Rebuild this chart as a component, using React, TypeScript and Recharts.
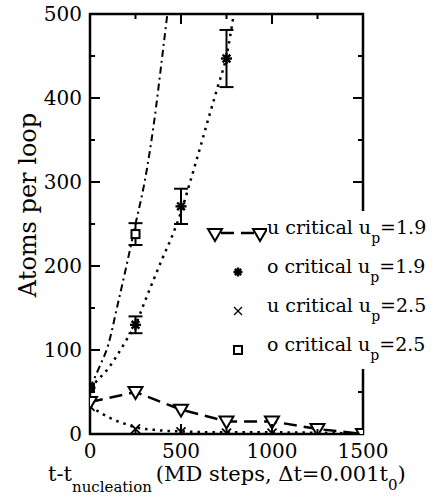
import React from "react";
import {
  ComposedChart,
  Line,
  Scatter,
  ErrorBar,
  XAxis,
  YAxis,
  ReferenceArea,
  Legend,
} from "recharts";

// measured series (t - t_nucleation in MD steps vs atoms per loop)
const u19X = [0, 250, 500, 750, 1000, 1250, 1500];
const u19Y = [38, 50, 29, 15, 15, 6, 0];

const o19X = [0, 250, 500, 750];
const o19Y = [55, 130, 271, 447];
const o19Err = [null, 10, 21, 34];

const u25X = [0, 250, 500, 750, 1000, 1250, 1500];
const u25Y = [33, 6, 2.5, 1, 1, 1, 0];

const o25X = [0, 250];
const o25Y = [55, 238];
const o25Err = [null, 13];

// fitted curves
const fitO19X = [0, 50, 100, 150, 200, 250, 300, 350, 400, 450, 500, 550, 600, 650, 700, 750, 790];
const fitO19Y = [55, 66, 78, 94, 112, 130, 157, 184, 210, 235, 264, 300, 337, 375, 412, 450, 500];

const fitO25X = [0, 50, 100, 150, 200, 250, 300, 350, 400, 425];
const fitO25Y = [55, 79, 106, 152, 200, 250, 300, 368, 455, 500];

const fitU25X = [0, 60, 120, 180, 250, 350, 500, 750, 1000, 1250, 1500];
const fitU25Y = [33, 25, 18, 13, 8, 5, 3, 2, 2, 1.5, 0.5];

const xTicks = [0, 250, 500, 750, 1000, 1250, 1500];
const yTicks = [0, 50, 100, 150, 200, 250, 300, 350, 400, 450, 500];

const FONT = "DejaVu Serif";
const W = 438;
const H = 497;
const TOP = 14;
const LEFT = 90;
const RIGHT = 75;
const XAXIS_H = 63;
const PLOT_W = W - LEFT - RIGHT;

const pts = (xs: number[], ys: number[], errs?: (number | null)[]) =>
  xs.map((x, i) => ({ x, y: ys[i], err: errs ? errs[i] : null }));

const u19 = pts(u19X, u19Y);
const o19 = pts(o19X, o19Y, o19Err);
const u25 = pts(u25X, u25Y);
const o25 = pts(o25X, o25Y, o25Err);
const fitO19 = pts(fitO19X, fitO19Y);
const fitO25 = pts(fitO25X, fitO25Y);
const fitU25 = pts(fitU25X, fitU25Y);

const Triangle = ({ cx, cy }: { cx: number; cy: number }) => (
  <polygon
    points={`${cx - 7},${cy - 5} ${cx + 7},${cy - 5} ${cx},${cy + 7}`}
    fill="#fff"
    stroke="#000"
    strokeWidth={2}
  />
);

const Star = ({ cx, cy, r = 5.5 }: { cx: number; cy: number; r?: number }) => (
  <g stroke="#000" strokeWidth={2.4}>
    <line x1={cx - r} y1={cy} x2={cx + r} y2={cy} />
    <line x1={cx} y1={cy - r} x2={cx} y2={cy + r} />
    <line x1={cx - r * 0.7} y1={cy - r * 0.7} x2={cx + r * 0.7} y2={cy + r * 0.7} />
    <line x1={cx - r * 0.7} y1={cy + r * 0.7} x2={cx + r * 0.7} y2={cy - r * 0.7} />
  </g>
);

const Cross = ({ cx, cy, r = 4.5, w = 1.8 }: { cx: number; cy: number; r?: number; w?: number }) => (
  <g stroke="#000" strokeWidth={w}>
    <line x1={cx - r} y1={cy - r} x2={cx + r} y2={cy + r} />
    <line x1={cx - r} y1={cy + r} x2={cx + r} y2={cy - r} />
  </g>
);

const Square = ({ cx, cy }: { cx: number; cy: number }) => (
  <rect x={cx - 4} y={cy - 4} width={8} height={8} fill="#fff" stroke="#000" strokeWidth={2} />
);

const XTick = (props: any) => {
  const { x, y, payload } = props;
  const major = payload.value % 500 === 0;
  const len = major ? 10 : 5;
  const edge = payload.value === 0 || payload.value === 1500;
  return (
    <g>
      {!edge && (
        <>
          <line x1={x} x2={x} y1={y} y2={y - len} stroke="#000" strokeWidth={2} />
          <line x1={x} x2={x} y1={TOP} y2={TOP + len} stroke="#000" strokeWidth={2} />
        </>
      )}
      {major && (
        <text x={x} y={y + 24} textAnchor="middle" fontSize={20} fontFamily={FONT} fill="#000">
          {payload.value}
        </text>
      )}
    </g>
  );
};

const YTick = (props: any) => {
  const { x, y, payload } = props;
  const major = payload.value % 100 === 0;
  const len = major ? 10 : 5;
  const edge = payload.value === 0 || payload.value === 500;
  const right = LEFT + PLOT_W;
  return (
    <g>
      {!edge && (
        <>
          <line x1={x} x2={x + len} y1={y} y2={y} stroke="#000" strokeWidth={2} />
          <line x1={right} x2={right - len} y1={y} y2={y} stroke="#000" strokeWidth={2} />
        </>
      )}
      {major && (
        <text x={x - 8} y={y} dy="0.36em" textAnchor="end" fontSize={20} fontFamily={FONT} fill="#000">
          {payload.value}
        </text>
      )}
    </g>
  );
};

const XLabel = () => (
  <text x={48} y={481} fontSize={21} fontFamily={FONT} fill="#000">
    t-t
    <tspan fontSize={15} dy={11}>nucleation</tspan>
    <tspan dy={-11} dx={4}>(MD steps, Δt=0.001t</tspan>
    <tspan fontSize={15} dy={9}>0</tspan>
    <tspan dy={-9}>)</tspan>
  </text>
);

const YLabel = () => (
  <text
    x={28}
    y={205}
    transform="rotate(-90 28 205)"
    textAnchor="middle"
    dominantBaseline="central"
    fontSize={24}
    fontFamily={FONT}
    fill="#000"
  >
    Atoms per loop
  </text>
);

const legendRows = [
  { key: "u19", pre: "u critical u", val: "=1.9" },
  { key: "o19", pre: "o critical u", val: "=1.9" },
  { key: "u25", pre: "u critical u", val: "=2.5" },
  { key: "o25", pre: "o critical u", val: "=2.5" },
];

const LegendSymbol = ({ kind }: { kind: string }) => (
  <svg width={62} height={39} style={{ display: "block", flex: "none" }}>
    {kind === "u19" && (
      <>
        <line x1={10} y1={22} x2={55} y2={22} stroke="#000" strokeWidth={2.5} strokeDasharray="13 7" strokeDashoffset={-6} />
        <Triangle cx={10} cy={23} />
        <Triangle cx={55} cy={23} />
      </>
    )}
    {kind === "o19" && <Star cx={33} cy={22} r={4.5} />}
    {kind === "u25" && <Cross cx={33} cy={22} r={4} w={1.3} />}
    {kind === "o25" && <Square cx={33} cy={22} />}
  </svg>
);

const LegendBox = () => (
  <div style={{ background: "#fff", fontFamily: FONT, fontSize: 19, color: "#000" }}>
    {legendRows.map((r) => (
      <div key={r.key} style={{ display: "flex", alignItems: "center", height: 39 }}>
        <LegendSymbol kind={r.key} />
        <span style={{ whiteSpace: "nowrap", lineHeight: "39px", marginTop: -4 }}>
          {r.pre}
          <span style={{ fontSize: 14, position: "relative", top: 9 }}>p</span>
          {r.val}
        </span>
      </div>
    ))}
  </div>
);

export default function App() {
  return (
    <div style={{ position: "absolute", left: 0, top: 0, width: W, height: H, background: "#fff" }}>
      <ComposedChart
        width={W}
        height={H}
        margin={{ top: TOP, right: RIGHT, bottom: 0, left: 0 }}
      >
        <XAxis
          type="number"
          dataKey="x"
          domain={[0, 1500]}
          ticks={xTicks}
          allowDataOverflow
          height={XAXIS_H}
          axisLine={false}
          tickLine={false}
          tickSize={0}
          tickMargin={0}
          interval={0}
          tick={<XTick />}
        />
        <YAxis
          type="number"
          dataKey="y"
          domain={[0, 500]}
          ticks={yTicks}
          allowDataOverflow
          width={LEFT}
          axisLine={false}
          tickLine={false}
          tickSize={0}
          tickMargin={0}
          interval={0}
          tick={<YTick />}
        />
        <ReferenceArea x1={0} x2={1500} y1={0} y2={500} fill="none" stroke="#000" strokeWidth={2.5} fillOpacity={0} />

        <Line
          data={fitO25}
          dataKey="y"
          type="monotone"
          stroke="#000"
          strokeWidth={2}
          strokeDasharray="7 4 2 4"
          dot={false}
          isAnimationActive={false}
        />
        <Line
          data={fitO19}
          dataKey="y"
          type="monotone"
          stroke="#000"
          strokeWidth={2.5}
          strokeDasharray="2.5 5"
          dot={false}
          isAnimationActive={false}
        />
        <Line
          data={fitU25}
          dataKey="y"
          type="monotone"
          stroke="#000"
          strokeWidth={2.5}
          strokeDasharray="2.5 5"
          dot={false}
          isAnimationActive={false}
        />
        <Line
          data={u19}
          dataKey="y"
          type="linear"
          stroke="#000"
          strokeWidth={2.5}
          strokeDasharray="13 7"
          dot={(p: any) => <Triangle key={`t${p.index}`} cx={p.cx} cy={p.cy} />}
          activeDot={false}
          isAnimationActive={false}
        />
        <Scatter
          data={u25}
          dataKey="y"
          shape={(p: any) => <Cross cx={p.cx} cy={p.cy} />}
          isAnimationActive={false}
        />
        <Scatter
          data={o25}
          dataKey="y"
          shape={(p: any) => <Square cx={p.cx} cy={p.cy} />}
          isAnimationActive={false}
        >
          <ErrorBar dataKey="err" direction="y" width={7} stroke="#000" strokeWidth={2} />
        </Scatter>
        <Scatter
          data={o19}
          dataKey="y"
          shape={(p: any) => <Star cx={p.cx} cy={p.cy} />}
          isAnimationActive={false}
        >
          <ErrorBar dataKey="err" direction="y" width={7} stroke="#000" strokeWidth={2} />
        </Scatter>

        <Legend
          content={<LegendBox />}
          layout="horizontal"
          verticalAlign="middle"
          align="center"
          wrapperStyle={{ left: 205, top: 211, width: 233, height: 158, background: "#fff" }}
        />
        <XLabel />
        <YLabel />
      </ComposedChart>
    </div>
  );
}
